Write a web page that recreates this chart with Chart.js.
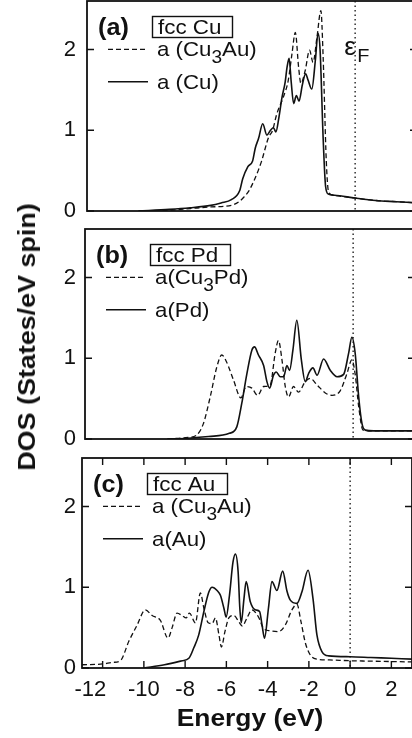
<!DOCTYPE html>
<html>
<head>
<meta charset="utf-8">
<script src="https://cdn.jsdelivr.net/npm/chart.js@4.4.1/dist/chart.umd.min.js"></script>
<style>
  html, body { margin: 0; padding: 0; background: #fff; overflow: hidden; }
  body { width: 412px; height: 738px; position: relative; font-family: "Liberation Sans", Arial, sans-serif; color: #111; }
  canvas { position: absolute; }
  .rot { position: absolute; width: 0; height: 0; transform: rotate(-90deg) scaleX(1.12); }
  .rot span, .xt span { position: absolute; transform: translate(-50%, -50%); white-space: nowrap; font-weight: bold; font-size: 24px; }
  .xt { position: absolute; width: 0; height: 0; transform: scaleX(1.1); }
</style>
</head>
<body>
<canvas id="chartA" width="412" height="241" style="left:5px; top:0px;"></canvas>
<canvas id="chartB" width="412" height="241" style="left:3px; top:228px;"></canvas>
<canvas id="chartC" width="412" height="241" style="left:0px; top:457px;"></canvas>
<div class="rot" style="left:27px; top:337px;"><span>DOS (States/eV spin)</span></div>
<div class="xt" style="left:250px; top:718px;"><span>Energy (eV)</span></div>

<script>
const FONT = '"Liberation Sans", Arial, sans-serif';

const energyTicks = [-12, -10, -8, -6, -4, -2, 0, 2];
const dosTicks = [0, 1, 2];

// (a) fcc Cu
const cuLatCu3AuE = [-10.5, -9, -8, -7, -6, -5.6, -5.4, -5.15, -4.93, -4.7, -4.52, -4.2, -4.0, -3.8, -3.48, -3.24, -3.06, -2.9, -2.74, -2.63, -2.42, -2.21, -2.04, -1.85, -1.66, -1.55, -1.4, -1.29, -1.12, 0, 1, 2, 3];
const cuLatCu3AuDos = [0, 0.01, 0.03, 0.05, 0.07, 0.12, 0.17, 0.25, 0.36, 0.5, 0.63, 0.91, 1.0, 1.2, 1.41, 1.62, 1.95, 2.21, 1.78, 1.58, 1.74, 1.99, 1.84, 2.15, 2.48, 1.9, 0.63, 0.24, 0.2, 0.16, 0.13, 0.115, 0.1];
const cuLatCuE = [-10.5, -9, -8, -7, -6.5, -6, -5.6, -5.45, -5.2, -4.97, -4.84, -4.68, -4.48, -4.28, -4.1, -3.96, -3.84, -3.7, -3.55, -3.39, -3.3, -3.2, -3.1, -2.98, -2.85, -2.72, -2.56, -2.4, -2.28, -2.1, -1.93, -1.8, -1.7, -1.55, -1.43, -1.3, -1.0, 0, 1, 2, 3];
const cuLatCuDos = [0, 0.02, 0.04, 0.07, 0.1, 0.14, 0.25, 0.4, 0.55, 0.62, 0.78, 0.9, 1.08, 0.94, 1.0, 1.03, 0.98, 1.15, 1.4, 1.6, 1.78, 1.89, 1.6, 1.33, 1.43, 1.36, 1.56, 1.7, 1.62, 1.51, 1.86, 2.2, 2.0, 0.9, 0.3, 0.21, 0.195, 0.16, 0.13, 0.115, 0.1];

// (b) fcc Pd
const pdLatCu3PdE = [-9, -8, -7.58, -7.26, -6.93, -6.61, -6.37, -6.13, -5.8, -5.44, -5.18, -4.91, -4.63, -4.34, -4.02, -3.78, -3.62, -3.45, -3.29, -3.13, -2.89, -2.65, -2.32, -2.08, -1.75, -1.35, -1.02, -0.62, -0.3, -0.06, 0.1, 0.27, 0.48, 1, 2, 3];
const pdLatCu3PdDos = [0, 0.02, 0.05, 0.19, 0.52, 0.89, 1.04, 0.95, 0.73, 0.51, 0.65, 0.63, 0.54, 0.65, 0.67, 1.06, 1.22, 0.98, 0.65, 0.52, 0.65, 0.58, 0.71, 0.75, 0.67, 0.57, 0.54, 0.6, 0.81, 0.98, 0.8, 0.4, 0.11, 0.1, 0.1, 0.1];
const pdLatPdE = [-9, -8, -7, -6, -5.64, -5.4, -5.15, -4.91, -4.78, -4.59, -4.34, -4.18, -4.05, -3.86, -3.73, -3.53, -3.37, -3.21, -3.08, -2.92, -2.73, -2.51, -2.32, -2.16, -1.95, -1.75, -1.43, -1.11, -0.78, -0.46, -0.22, -0.06, 0.1, 0.27, 0.43, 0.59, 1, 2, 3];
const pdLatPdDos = [0, 0.01, 0.03, 0.07, 0.15, 0.44, 0.81, 1.1, 1.14, 1.04, 0.91, 0.71, 0.63, 0.79, 0.83, 0.77, 0.77, 0.91, 0.85, 1.1, 1.47, 0.98, 0.71, 0.81, 0.88, 0.79, 0.99, 0.85, 0.77, 0.8, 1.06, 1.26, 1.06, 0.52, 0.19, 0.11, 0.1, 0.1, 0.1];

// (c) fcc Au
const auLatCu3AuE = [-13, -12, -11.5, -11.14, -10.73, -10.33, -9.93, -9.6, -9.2, -8.83, -8.63, -8.39, -8.15, -7.95, -7.79, -7.5, -7.26, -7.09, -6.88, -6.69, -6.53, -6.36, -6.24, -6.07, -5.88, -5.64, -5.39, -5.23, -5.0, -4.76, -4.44, -4.2, -3.87, -3.47, -3.15, -2.82, -2.58, -2.38, -2.17, -1.93, -1.61, -1, 0, 1, 2, 3];
const auLatCu3AuDos = [0.04, 0.05, 0.07, 0.09, 0.33, 0.53, 0.72, 0.65, 0.59, 0.37, 0.5, 0.68, 0.65, 0.62, 0.68, 0.56, 0.93, 0.74, 0.56, 0.55, 0.62, 0.41, 0.26, 0.45, 0.62, 0.65, 0.57, 0.52, 0.62, 0.72, 0.63, 0.49, 0.46, 0.45, 0.53, 0.72, 0.79, 0.57, 0.31, 0.16, 0.11, 0.1, 0.09, 0.085, 0.08, 0.075];
const auLatAuE = [-10, -9, -8.15, -7.82, -7.58, -7.34, -7.09, -6.85, -6.69, -6.45, -6.29, -6.12, -6.01, -5.85, -5.68, -5.56, -5.43, -5.35, -5.28, -5.15, -5.04, -4.84, -4.6, -4.39, -4.28, -4.15, -3.96, -3.79, -3.55, -3.27, -3.06, -2.9, -2.58, -2.34, -2.04, -1.8, -1.61, -1.36, -1.04, 0, 1, 2, 3];
const auLatAuDos = [0, 0.04, 0.09, 0.12, 0.25, 0.41, 0.7, 0.94, 1.0, 0.96, 0.9, 0.74, 0.63, 0.9, 1.31, 1.41, 1.19, 0.75, 0.56, 0.85, 1.07, 0.82, 0.72, 0.7, 0.55, 0.37, 0.74, 1.07, 0.96, 1.2, 0.95, 0.84, 0.8, 0.94, 1.21, 0.86, 0.41, 0.2, 0.15, 0.14, 0.13, 0.12, 0.11];

const pts = (xs, ys) => xs.map((x, i) => ({ x: x, y: ys[i] }));

// draws a label, turning "₃" into a lowered digit
function richText(ctx, str, x, y, size, sx) {
  ctx.save();
  ctx.translate(x, y);
  ctx.scale(sx, 1);
  let cx = 0;
  str.split(/(₃)/).forEach(part => {
    if (part === '₃') {
      ctx.font = Math.round(size * 0.85) + 'px ' + FONT;
      ctx.fillText('3', cx, size * 0.3);
      cx += ctx.measureText('3').width;
    } else if (part) {
      ctx.font = size + 'px ' + FONT;
      ctx.fillText(part, cx, 0);
      cx += ctx.measureText(part).width;
    }
  });
  ctx.restore();
}

function wideText(ctx, str, x, y, font, sx) {
  ctx.save();
  ctx.translate(x, y);
  ctx.scale(sx, 1);
  ctx.font = font;
  ctx.fillText(str, 0, 0);
  ctx.restore();
}

// no extra room for half-height end labels; the plot box is set by the axis sizes
function noEdgePadding(s) {
  s.paddingTop = 0;
  s.paddingBottom = 0;
  s.paddingLeft = 0;
  s.paddingRight = 0;
}

// frame, inward ticks, Fermi level and the in-panel legend
const panelDecor = {
  id: 'panelDecor',
  afterDatasetsDraw(chart, args, opts) {
    const ctx = chart.ctx;
    const a = chart.chartArea;
    const x = chart.scales.x, y = chart.scales.y;
    ctx.save();
    ctx.strokeStyle = '#111';
    ctx.fillStyle = '#111';
    ctx.lineWidth = 1.8;
    ctx.strokeRect(a.left, a.top, a.right - a.left, a.bottom - a.top);

    ctx.lineWidth = 1.4;
    ctx.beginPath();
    x.ticks.forEach(t => {
      const px = x.getPixelForValue(t.value);
      ctx.moveTo(px, a.bottom); ctx.lineTo(px, a.bottom - 7);
      ctx.moveTo(px, a.top); ctx.lineTo(px, a.top + 7);
    });
    y.ticks.forEach(t => {
      const py = y.getPixelForValue(t.value);
      ctx.moveTo(a.left, py); ctx.lineTo(a.left + 7, py);
      ctx.moveTo(a.right, py); ctx.lineTo(a.right - 7, py);
    });
    ctx.stroke();

    const xf = x.getPixelForValue(0);
    ctx.setLineDash([1.5, 3]);
    ctx.lineWidth = 1.3;
    ctx.beginPath();
    ctx.moveTo(xf, a.top); ctx.lineTo(xf, a.bottom);
    ctx.stroke();
    ctx.setLineDash([]);

    if (opts.fermi) {
      ctx.textBaseline = 'alphabetic';
      wideText(ctx, 'ε', xf - 11, a.top + 54, '25px ' + FONT, 1.05);
      wideText(ctx, 'F', xf + 2, a.top + 61, '19px ' + FONT, 1.05);
    }

    const L = a.left, T = a.top;
    ctx.textAlign = 'left';
    ctx.textBaseline = 'alphabetic';
    wideText(ctx, opts.tag, L + 11, T + 34, 'bold 24px ' + FONT, 1.05);
    ctx.lineWidth = 1.4;
    ctx.strokeRect(L + 65.5, T + 15.5, 80, 21);
    wideText(ctx, opts.metal, L + 71, T + 33, '20px ' + FONT, 1.12);

    chart.data.datasets.forEach((ds, i) => {
      const py = y.getPixelForValue(i === 0 ? 2 : 1.6);
      ctx.lineWidth = ds.borderWidth;
      ctx.setLineDash(ds.borderDash);
      ctx.beginPath();
      ctx.moveTo(L + 21, py); ctx.lineTo(L + 61, py);
      ctx.stroke();
      ctx.setLineDash([]);
      richText(ctx, ds.label, L + 70, py + 7, 21, 1.06);
    });
    ctx.restore();
  }
};

function makePanel(id, tag, metal, sets, labelPad, showX, fermi) {
  return new Chart(document.getElementById(id), {
    type: 'line',
    data: {
      datasets: sets.map(s => ({
        label: s.label,
        data: pts(s.e, s.d),
        borderColor: '#111',
        borderWidth: s.dash ? 1.3 : 1.6,
        borderDash: s.dash ? [5, 3] : [],
        pointRadius: 0,
        cubicInterpolationMode: 'monotone',
        fill: false
      }))
    },
    options: {
      responsive: false,
      animation: false,
      layout: { padding: { top: 1, left: 0, right: 0, bottom: 0 } },
      plugins: {
        legend: { display: false },
        tooltip: { enabled: false },
        panelDecor: { tag: tag, metal: metal, fermi: fermi }
      },
      scales: {
        x: {
          type: 'linear', min: -13, max: 3,
          grid: { display: false, drawTicks: false },
          border: { display: false },
          ticks: {
            stepSize: 1, autoSkip: false, maxRotation: 0, padding: 9,
            color: '#111', font: { family: FONT, size: 22 },
            callback: v => showX && energyTicks.includes(v) ? (v === -12 ? '-12    ' : String(v)) : null
          },
          afterFit: s => { s.height = 30; noEdgePadding(s); }
        },
        y: {
          min: 0, max: 2.6,
          grid: { display: false, drawTicks: false },
          border: { display: false },
          ticks: {
            stepSize: 0.2, autoSkip: false, padding: labelPad,
            color: '#111', font: { family: FONT, size: 22 },
            callback: v => {
              const r = Math.round(v);
              return Math.abs(v - r) < 1e-6 && dosTicks.includes(r) ? String(r) : null;
            }
          },
          afterFit: s => { s.width = 82; noEdgePadding(s); }
        }
      }
    },
    plugins: [panelDecor]
  });
}

makePanel('chartA', '(a)', 'fcc Cu', [
  { label: 'a (Cu₃Au)', e: cuLatCu3AuE, d: cuLatCu3AuDos, dash: true },
  { label: 'a (Cu)', e: cuLatCuE, d: cuLatCuDos, dash: false }
], 11, false, true);

makePanel('chartB', '(b)', 'fcc Pd', [
  { label: 'a(Cu₃Pd)', e: pdLatCu3PdE, d: pdLatCu3PdDos, dash: true },
  { label: 'a(Pd)', e: pdLatPdE, d: pdLatPdDos, dash: false }
], 9, false, false);

makePanel('chartC', '(c)', 'fcc Au', [
  { label: 'a (Cu₃Au)', e: auLatCu3AuE, d: auLatCu3AuDos, dash: true },
  { label: 'a(Au)', e: auLatAuE, d: auLatAuDos, dash: false }
], 6, true, false);
</script>
</body>
</html>
